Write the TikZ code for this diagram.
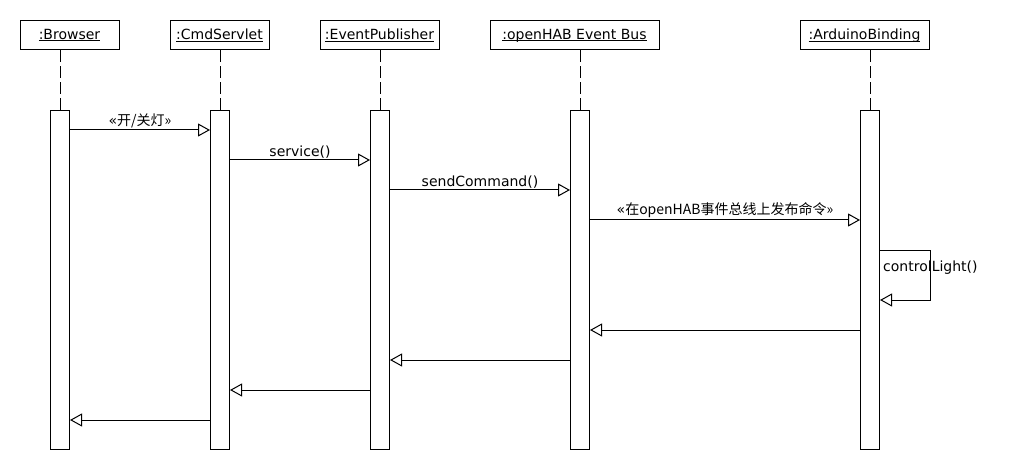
\documentclass[tikz,border=0pt]{standalone}
\usepackage{fontspec}
\setmainfont{DejaVu Sans}
\newfontfamily\cjk{Noto Sans CJK SC}
\usetikzlibrary{arrows.meta}

\newcommand{\objname}[1]{\setbox0\hbox{#1}\dp0=0pt $\underline{\box0}$}

\tikzset{
	obj/.style={shape=rectangle,draw=black,line width=1pt,minimum height=29pt,inner sep=0pt},
	act/.style={shape=rectangle,draw=black,fill=white,line width=1pt,minimum width=19pt,minimum height=339pt,inner sep=0pt},
	life/.style={draw=black,line width=1pt,dash pattern=on 12pt off 4pt},
	msg/.style={-{Triangle[open,length=12pt,width=13pt]},line width=1pt},
	lbl/.style={above,inner sep=1.5pt}
}

\begin{document}
\begin{tikzpicture}[x=1pt,y=-1pt,font=\fontsize{14}{16}\selectfont]
	\useasboundingbox (0,0) rectangle (1022,470);
	
	% objects
	\node[obj,minimum width=99pt] (br) at (69.5,35)   {\objname{:Browser}};
	\node[obj,minimum width=99pt] (cs) at (219.5,35)   {\objname{:CmdServlet}};
	\node[obj,minimum width=119pt] (ep) at (379.5,35)   {\objname{:EventPublisher}};
	\node[obj,minimum width=169pt] (eb) at (574.5,35)   {\objname{:openHAB Event Bus}};
	\node[obj,minimum width=129pt] (ab) at (864.5,35)   {\objname{:ArduinoBinding}};
	
	% activations
	\node[act] (brA) at (60,280)   {};
	\node[act] (csA) at (220,280)   {};
	\node[act] (epA) at (380,280)   {};
	\node[act] (ebA) at (580,280)   {};
	\node[act] (abA) at (870,280)   {};
	
	\draw[life] (brA.north) -- (brA.north |- br.south);
	\draw[life] (csA.north) -- (csA.north |- cs.south);
	\draw[life] (epA.north) -- (epA.north |- ep.south);
	\draw[life] (ebA.north) -- (ebA.north |- eb.south);
	\draw[life] (abA.north) -- (abA.north |- ab.south);
	
	% calls
	\path[msg] ([yshift=-20pt]brA.north east) edge node[lbl] {«\cjk{开}/\cjk{关灯}»} ([yshift=-20pt]csA.north west);
	\path[msg] ([yshift=-50pt]csA.north east) edge node[lbl] {service()} ([yshift=-50pt]epA.north west);
	\path[msg] ([yshift=-80pt]epA.north east) edge node[lbl] {sendCommand()} ([yshift=-80pt]ebA.north west);
	\path[msg] ([yshift=-110pt]ebA.north east) edge node[lbl] {«\cjk{在}openHAB\cjk{事件总线上发布命令}»} ([yshift=-110pt]abA.north west);
	
	\draw[msg] ([yshift=-141pt]abA.north east) -- ++(50,0) |- ([yshift=-190pt]abA.north east);
	\node[anchor=west,inner sep=0pt] (cl) at ([xshift=3pt,yshift=-158pt]abA.north east) {controlLight()};
	
	% returns
	\path[msg] ([yshift=-220pt]abA.north west) edge ([yshift=-220pt]ebA.north east);
	\path[msg] ([yshift=-250pt]ebA.north west) edge ([yshift=-250pt]epA.north east);
	\path[msg] ([yshift=-280pt]epA.north west) edge ([yshift=-280pt]csA.north east);
	\path[msg] ([yshift=-310pt]csA.north west) edge ([yshift=-310pt]brA.north east);
	
\end{tikzpicture}
\end{document}
